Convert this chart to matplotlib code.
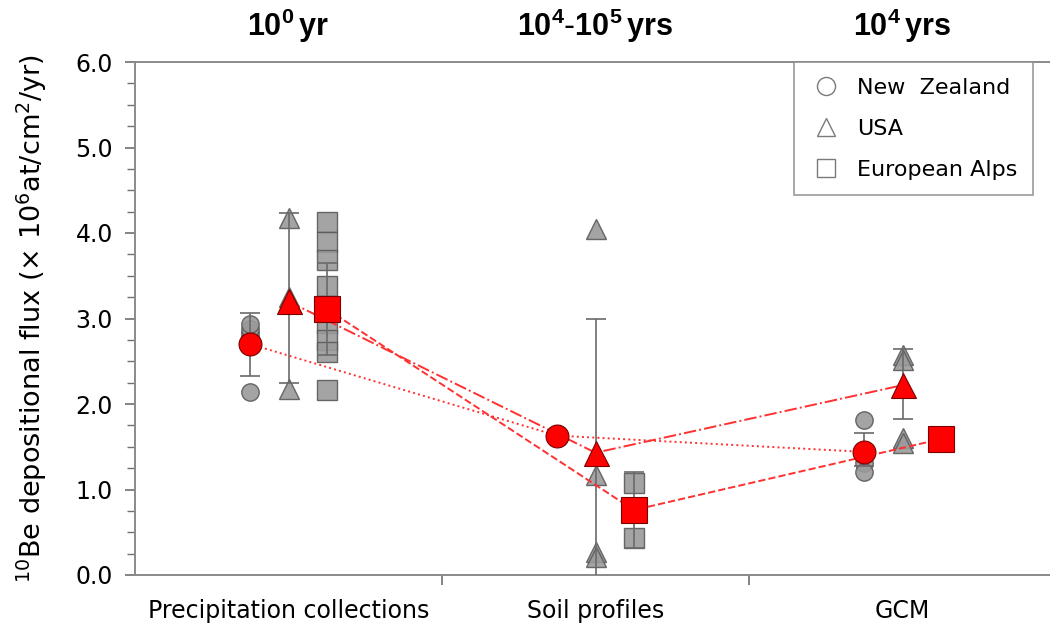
import numpy as np
import matplotlib
matplotlib.use("Agg")
import matplotlib.pyplot as plt
from matplotlib.lines import Line2D

plt.rcParams["font.family"] = ["DejaVu Sans"]
plt.rcParams["mathtext.fontset"] = "custom"
plt.rcParams["mathtext.rm"] = "DejaVu Sans"
plt.rcParams["mathtext.it"] = "DejaVu Sans"
plt.rcParams["mathtext.bf"] = "Liberation Sans:bold"

# categories and their timescales
cats = ["Precipitation collections", "Soil profiles", "GCM"]
ages = [r"$\mathbf{10^{0}\,yr}$", r"$\mathbf{10^{4}\text{-}10^{5}\,yrs}$", r"$\mathbf{10^{4}\,yrs}$"]

# individual values (gray)
nz_pts = [[2.14, 2.72, 2.78, 2.83, 2.88, 2.93], [], [1.81, 1.31, 1.21]]
usa_pts = [[4.17, 3.25, 2.17], [4.05, 1.17, 0.27, 0.21], [2.57, 2.51, 1.60, 1.54]]
alps_pts = [[4.13, 3.90, 3.69, 3.38, 3.15, 2.95, 2.75, 2.61, 2.16],
            [1.08, 0.43], []]

# means (red) and error ranges
nz_mean = [2.70, 1.63, 1.44]
nz_lo = [2.33, None, 1.27]
nz_hi = [3.07, None, 1.66]
usa_mean = [3.20, 1.43, 2.22]
usa_lo = [2.25, -0.13, 1.82]
usa_hi = [4.23, 2.99, 2.64]
alps_mean = [3.11, 0.76, 1.59]
alps_lo = [2.57, 0.32, None]
alps_hi = [3.65, 1.20, None]

regions = [
    ("New  Zealand", "o", -0.125, nz_pts, nz_mean, nz_lo, nz_hi, ":", 12.5, 16.5),
    ("USA", "^", 0.0, usa_pts, usa_mean, usa_lo, usa_hi, "-.", 14, 18),
    ("European Alps", "s", 0.125, alps_pts, alps_mean, alps_lo, alps_hi, "--", 14.5, 19),
]

fig = plt.figure(figsize=(10.5, 6.28), dpi=100)
ax = fig.add_axes([135 / 1050, 53 / 628, 915 / 1050, 513 / 628])

base = np.array([0.5, 1.5, 2.5])
for name, mk, off, pts, mean, lo, hi, ls, gsz, rsz in regions:
    xs = base + off
    for i, p in enumerate(pts):
        if p:
            ax.plot([xs[i]] * len(p), p, mk, ms=gsz, mfc="#9a9a9a", mec="#5a5a5a",
                    mew=1.0, alpha=0.9, ls="none", zorder=2)
    for i in range(3):
        if lo[i] is not None:
            ax.errorbar(xs[i], mean[i], yerr=[[mean[i] - lo[i]], [hi[i] - mean[i]]],
                        fmt="none", ecolor="#6a6a6a", elinewidth=1.2, capsize=7,
                        capthick=1.2, zorder=3)
    ax.plot(xs, mean, ls=ls, color="#ff3030", lw=1.4, zorder=4)
    ax.plot(xs, mean, mk, ms=rsz, mfc="#ff0000", mec="#7a0000", mew=0.8,
            ls="none", zorder=5)

ax.set_xlim(0, 915 / 307)
ax.set_ylim(0, 6.0)
ax.set_yticks(np.arange(0, 6.01, 1.0))
ax.set_yticklabels(["%.1f" % v for v in np.arange(0, 6.01, 1.0)])
ax.set_yticks(np.arange(0, 6.01, 0.25), minor=True)
ax.set_xticks([1, 2])
ax.set_xticklabels(["", ""])
ax.set_xticks(base, minor=True)
ax.set_xticklabels(cats, minor=True)
ax.tick_params(axis="x", which="minor", length=0, pad=17, labelsize=17)
ax.tick_params(axis="x", which="major", length=7, width=1.2, color="#707070")
ax.tick_params(axis="y", which="major", length=7, width=1.2, color="#707070",
               labelsize=17, pad=9)
ax.tick_params(axis="y", which="minor", length=6, width=1.0, color="#707070")

for s in ["left", "bottom", "top"]:
    ax.spines[s].set_color("#8a8a8a")
    ax.spines[s].set_linewidth(1.4)
ax.spines["right"].set_visible(False)

ax.set_ylabel(r"$^{10}$Be depositional flux (× 10$^{6}$at/cm$^{2}$/yr)",
              fontsize=19.5, labelpad=19)

for x, t in zip(base, ages):
    ax.text(x, 6.42, t, ha="center", va="center", fontsize=22, clip_on=False)

hd = [Line2D([], [], marker=m, ls="none", ms=13, mfc="none", mec="#7a7a7a", mew=1.0)
      for m in ["o", "^", "s"]]
leg = ax.legend(hd, [r[0] for r in regions], loc="upper right",
                bbox_to_anchor=(0.981, 1.0), borderaxespad=0, fontsize=16,
                frameon=True, fancybox=False, labelspacing=0.95,
                handletextpad=0.7, borderpad=0.7, handlelength=1.4)
leg.get_frame().set_edgecolor("#8a8a8a")
leg.get_frame().set_linewidth(1.3)

fig.savefig("out.png", dpi=100)
